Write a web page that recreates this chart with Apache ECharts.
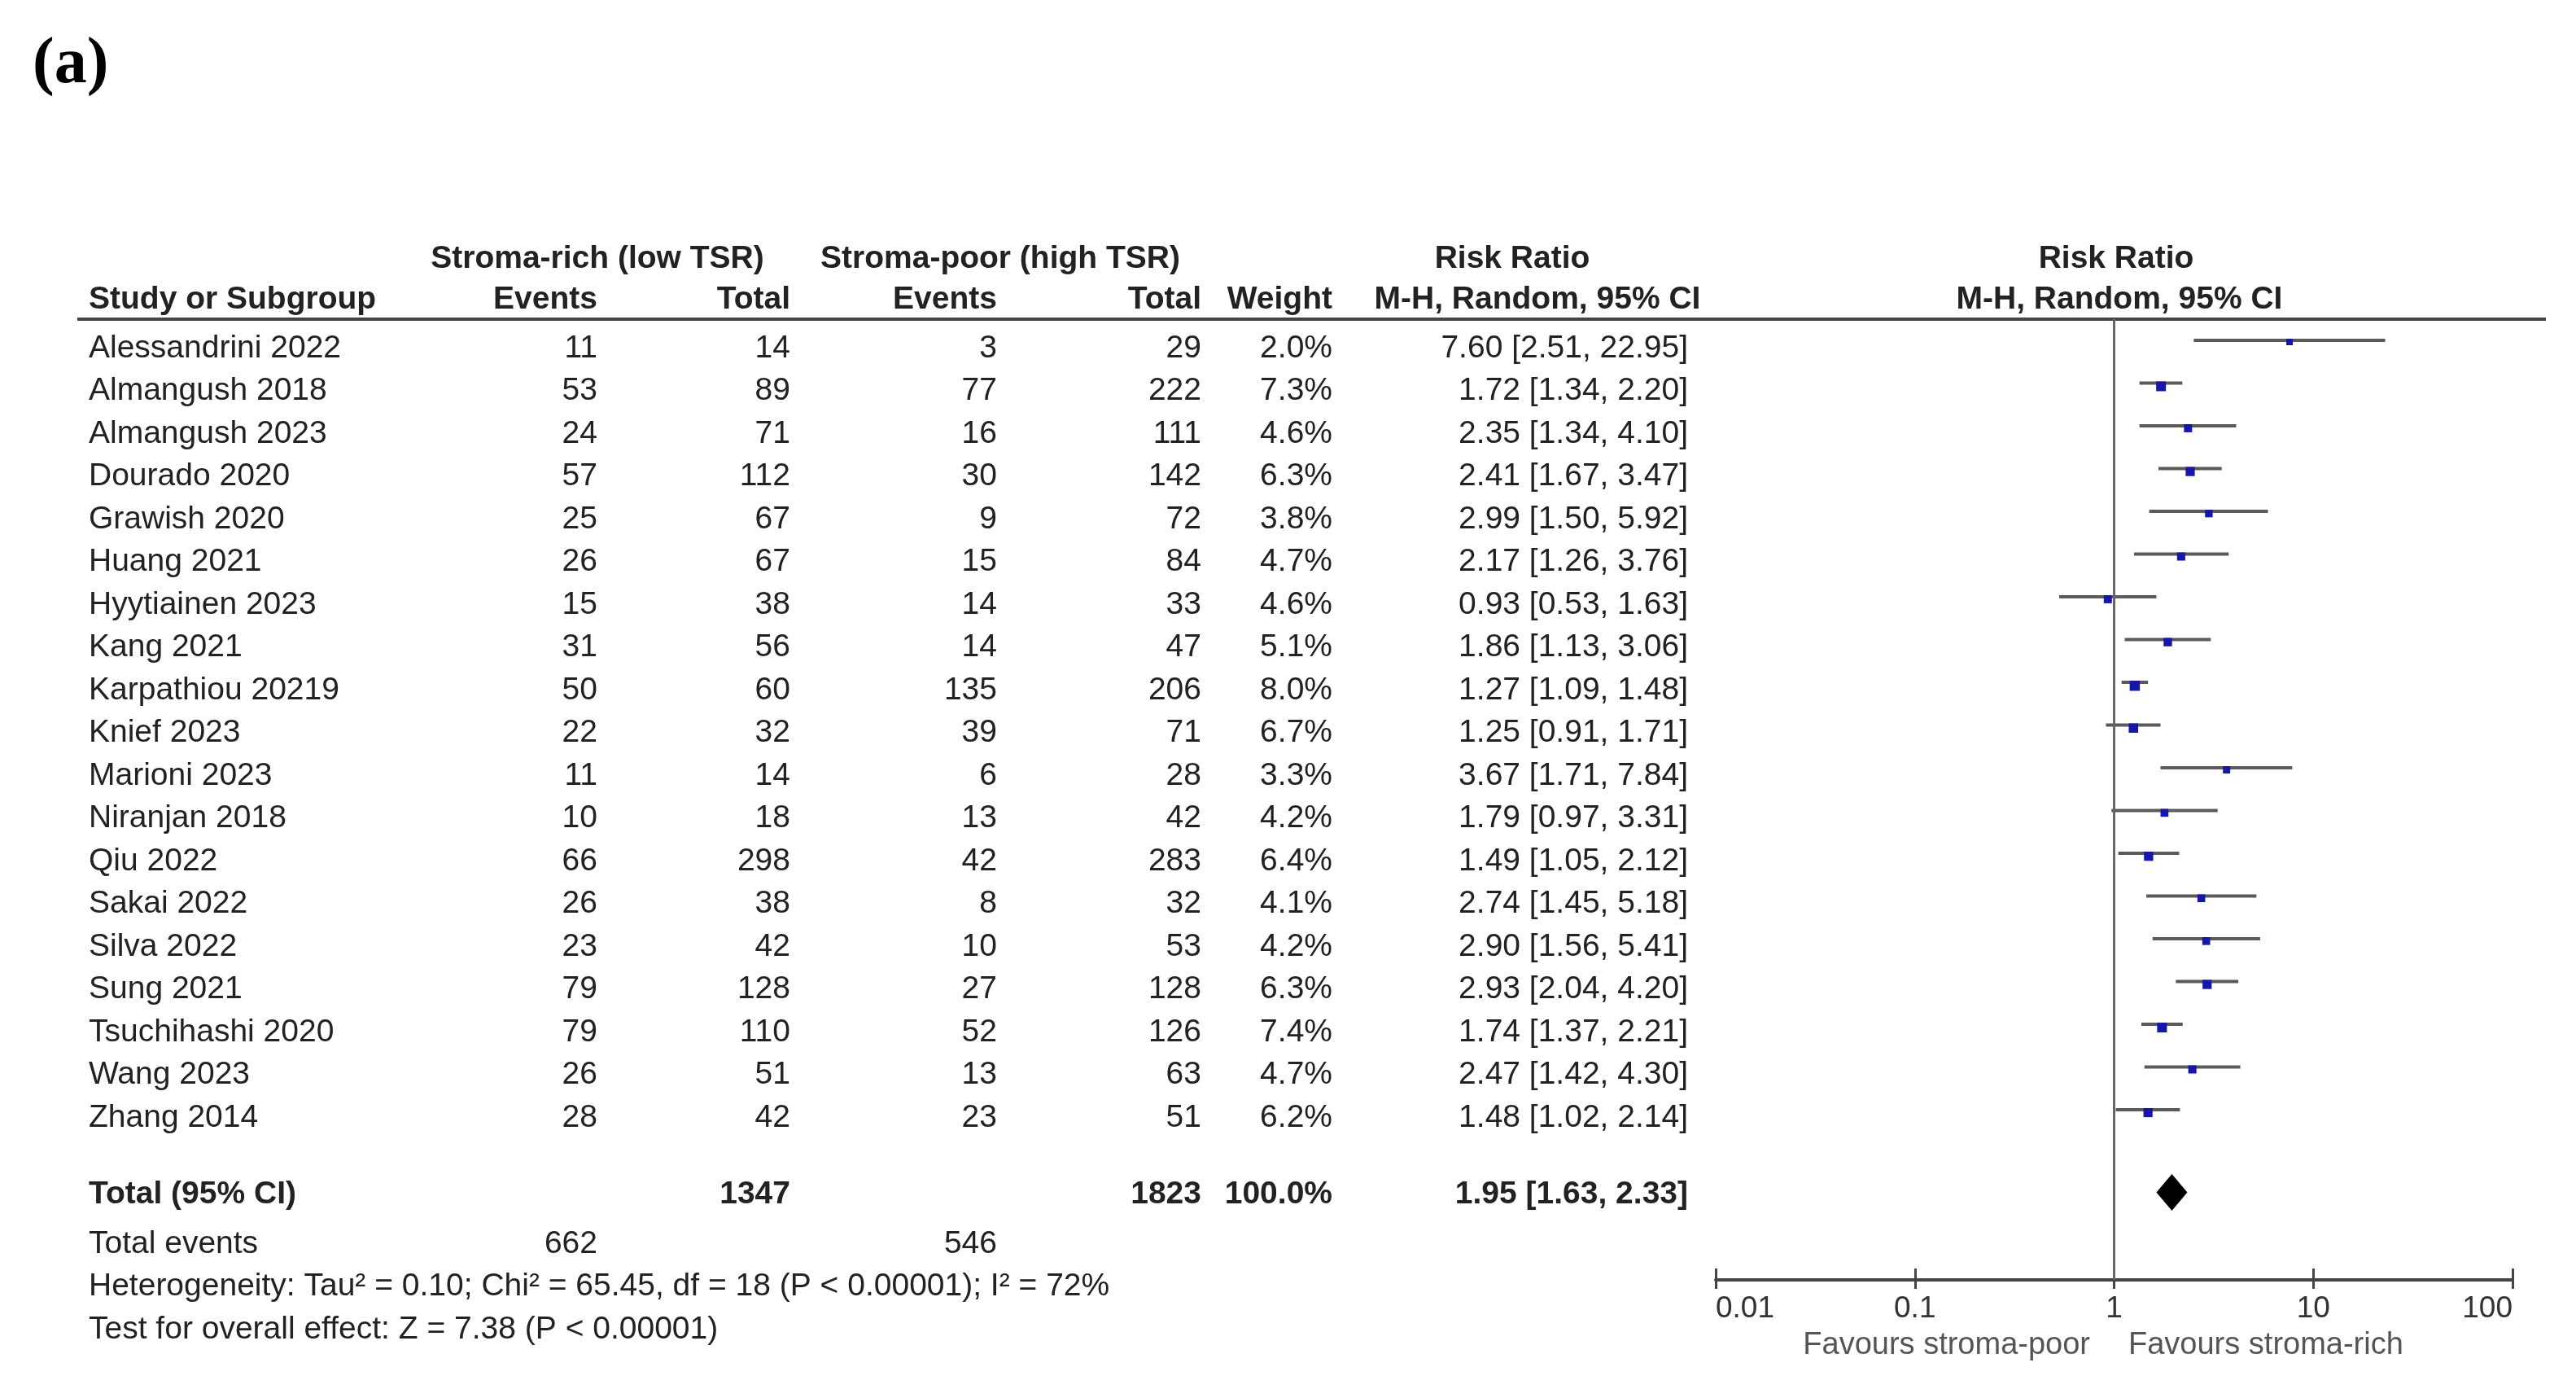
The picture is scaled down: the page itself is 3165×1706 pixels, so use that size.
<!DOCTYPE html>
<html><head><meta charset="utf-8">
<script src="https://cdn.jsdelivr.net/npm/echarts@6/dist/echarts.min.js"></script>
<style>html,body{margin:0;padding:0;background:#fff}#c{width:3165px;height:1706px}</style>
</head><body><div id="c"></div>
<script>
// ---------------- data ----------------
const studies = ['Alessandrini 2022','Almangush 2018','Almangush 2023','Dourado 2020','Grawish 2020','Huang 2021','Hyytiainen 2023','Kang 2021','Karpathiou 20219','Knief 2023','Marioni 2023','Niranjan 2018','Qiu 2022','Sakai 2022','Silva 2022','Sung 2021','Tsuchihashi 2020','Wang 2023','Zhang 2014'];
const richEvents = [11,53,24,57,25,26,15,31,50,22,11,10,66,26,23,79,79,26,28];
const richTotal  = [14,89,71,112,67,67,38,56,60,32,14,18,298,38,42,128,110,51,42];
const poorEvents = [3,77,16,30,9,15,14,14,135,39,6,13,42,8,10,27,52,13,23];
const poorTotal  = [29,222,111,142,72,84,33,47,206,71,28,42,283,32,53,128,126,63,51];
const weights    = [2.0,7.3,4.6,6.3,3.8,4.7,4.6,5.1,8.0,6.7,3.3,4.2,6.4,4.1,4.2,6.3,7.4,4.7,6.2];
const rr         = [7.60,1.72,2.35,2.41,2.99,2.17,0.93,1.86,1.27,1.25,3.67,1.79,1.49,2.74,2.90,2.93,1.74,2.47,1.48];
const ciLow      = [2.51,1.34,1.34,1.67,1.50,1.26,0.53,1.13,1.09,0.91,1.71,0.97,1.05,1.45,1.56,2.04,1.37,1.42,1.02];
const ciHigh     = [22.95,2.20,4.10,3.47,5.92,3.76,1.63,3.06,1.48,1.71,7.84,3.31,2.12,5.18,5.41,4.20,2.21,4.30,2.14];
const pooled     = [1.95, 1.63, 2.33];          // RR, low, high
const totals     = [1347, 1823];                 // rich, poor
const totalEvents = [662, 546];                  // rich, poor
const totalWeight = 100.0;
const axisTicks  = [0.01, 0.1, 1, 10, 100];
const heterogeneity = 'Heterogeneity: Tau\u00b2 = 0.10; Chi\u00b2 = 65.45, df = 18 (P < 0.00001); I\u00b2 = 72%';
const overallTest   = 'Test for overall effect: Z = 7.38 (P < 0.00001)';

// ---------------- layout ----------------
const W = 3165, H = 1706;
const ROW0 = 428, PITCH = 52.5;        // pixel of row 0 text centre, row pitch
const FONT = "'Liberation Sans', Arial, sans-serif";
const FS = 39;
const TXT = '#222';
const col = {study:109, rE:734, rT:971, pE:1225, pT:1476, wt:1637, ci:2074};
const ROW_TOTAL = 19.8, ROW_EVENTS = 20.95, ROW_HET = 21.95, ROW_TEST = 22.95;
const ROW_H1 = -2.095, ROW_H2 = -1.143;
const FOREST = {left:2108, right:3087, top:392, bottom:1572};

const fmtCI = (m,l,h) => m.toFixed(2) + ' [' + l.toFixed(2) + ', ' + h.toFixed(2) + ']';

// table cells built from the arrays: [x, row, text, align, bold]
const cells = [];
studies.forEach((s,i) => {
  cells.push([col.study, i, s, 'left', 0]);
  cells.push([col.rE, i, String(richEvents[i]), 'right', 0]);
  cells.push([col.rT, i, String(richTotal[i]), 'right', 0]);
  cells.push([col.pE, i, String(poorEvents[i]), 'right', 0]);
  cells.push([col.pT, i, String(poorTotal[i]), 'right', 0]);
  cells.push([col.wt, i, weights[i].toFixed(1) + '%', 'right', 0]);
  cells.push([col.ci, i, fmtCI(rr[i], ciLow[i], ciHigh[i]), 'right', 0]);
});
cells.push([col.study, ROW_TOTAL, 'Total (95% CI)', 'left', 1]);
cells.push([col.rT, ROW_TOTAL, String(totals[0]), 'right', 1]);
cells.push([col.pT, ROW_TOTAL, String(totals[1]), 'right', 1]);
cells.push([col.wt, ROW_TOTAL, totalWeight.toFixed(1) + '%', 'right', 1]);
cells.push([col.ci, ROW_TOTAL, fmtCI(pooled[0], pooled[1], pooled[2]), 'right', 1]);
cells.push([col.study, ROW_EVENTS, 'Total events', 'left', 0]);
cells.push([col.rE, ROW_EVENTS, String(totalEvents[0]), 'right', 0]);
cells.push([col.pE, ROW_EVENTS, String(totalEvents[1]), 'right', 0]);
cells.push([col.study, ROW_HET, heterogeneity, 'left', 0]);
cells.push([col.study, ROW_TEST, overallTest, 'left', 0]);
// headers
cells.push([734, ROW_H1, 'Stroma-rich (low TSR)', 'center', 1]);
cells.push([1229, ROW_H1, 'Stroma-poor (high TSR)', 'center', 1]);
cells.push([1858, ROW_H1, 'Risk Ratio', 'center', 1]);
cells.push([2600, ROW_H1, 'Risk Ratio', 'center', 1]);
cells.push([col.study, ROW_H2, 'Study or Subgroup', 'left', 1]);
cells.push([col.rE, ROW_H2, 'Events', 'right', 1]);
cells.push([col.rT, ROW_H2, 'Total', 'right', 1]);
cells.push([col.pE, ROW_H2, 'Events', 'right', 1]);
cells.push([col.pT, ROW_H2, 'Total', 'right', 1]);
cells.push([col.wt, ROW_H2, 'Weight', 'right', 1]);
cells.push([1889, ROW_H2, 'M-H, Random, 95% CI', 'center', 1]);
cells.push([2604, ROW_H2, 'M-H, Random, 95% CI', 'center', 1]);

const ciData = studies.map((s,i) => [ciLow[i], ciHigh[i], rr[i], i, weights[i]]);

const chart = echarts.init(document.getElementById('c'), null, {renderer:'canvas'});
const fMin = (FOREST.top - ROW0) / PITCH, fMax = (FOREST.bottom - ROW0) / PITCH;

chart.setOption({
  animation:false,
  backgroundColor:'#fff',
  grid:[
    {left:0, top:0, width:W, height:H},
    {left:FOREST.left, top:FOREST.top, width:FOREST.right-FOREST.left, height:FOREST.bottom-FOREST.top}
  ],
  xAxis:[
    {gridIndex:0, type:'value', min:0, max:W, show:false},
    {gridIndex:1, type:'log', logBase:10, min:axisTicks[0], max:axisTicks[axisTicks.length-1], position:'bottom',
     axisLine:{show:true, onZero:false, lineStyle:{color:'#444', width:4}},
     axisTick:{show:true, inside:false, length:11, lineStyle:{color:'#444', width:3}},
     axisLabel:{show:true, fontFamily:FONT, fontSize:37, color:'#333', margin:36, verticalAlign:'middle',
       alignMinLabel:'left', alignMaxLabel:'right',
       formatter:v => String(+Number(v).toPrecision(6))},
     splitLine:{show:false}},
    {gridIndex:1, type:'log', logBase:10, min:axisTicks[0], max:axisTicks[axisTicks.length-1], position:'bottom',
     axisLine:{show:false, onZero:false}, axisLabel:{show:false}, splitLine:{show:false},
     axisTick:{show:true, inside:true, length:14, lineStyle:{color:'#444', width:3}}}
  ],
  yAxis:[
    {gridIndex:0, type:'value', min:-ROW0/PITCH, max:(H-ROW0)/PITCH, inverse:true, show:false},
    {gridIndex:1, type:'value', min:fMin, max:fMax, inverse:true, show:false}
  ],
  graphic:[
    {type:'text', left:40, top:40, style:{text:'(a)', font:"bold 80px 'Liberation Serif', 'Times New Roman', serif", fill:'#000'}},
    {type:'line', shape:{x1:95, y1:392, x2:3128, y2:392}, style:{stroke:'#444', lineWidth:4}},
    {type:'text', x:2568, y:1653, style:{text:'Favours stroma-poor', align:'right', verticalAlign:'middle', font:'38px ' + FONT, fill:'#555'}},
    {type:'text', x:2615, y:1653, style:{text:'Favours stroma-rich', align:'left', verticalAlign:'middle', font:'38px ' + FONT, fill:'#555'}}
  ],
  series:[
    {
      type:'custom', xAxisIndex:0, yAxisIndex:0, data:cells, silent:true,
      renderItem:(p, api) => {
        const d = cells[p.dataIndex];
        const pt = api.coord([d[0], d[1]]);
        return {type:'text', x:pt[0], y:pt[1], style:{text:d[2], align:d[3], verticalAlign:'middle',
          font:(d[4] ? 'bold ' : '') + FS + 'px ' + FONT, fill:TXT}};
      }
    },
    {
      type:'custom', xAxisIndex:1, yAxisIndex:1, data:ciData, silent:true, clip:false,
      renderItem:(p, api) => {
        const y = api.value(3);
        const a = api.coord([api.value(0), y]);
        const b = api.coord([api.value(1), y]);
        const m = api.coord([api.value(2), y]);
        const s = 6.5 + 0.75 * api.value(4);
        return {type:'group', children:[
          {type:'line', shape:{x1:a[0], y1:a[1]-10, x2:b[0], y2:b[1]-10}, style:{stroke:'#5a5a5a', lineWidth:4}},
          {type:'rect', shape:{x:m[0]-s/2, y:m[1]-12, width:s, height:s}, style:{fill:'#1616a8'}}
        ]};
      },
      markLine:{silent:true, symbol:'none', label:{show:false},
        lineStyle:{color:'#666', width:3, type:'solid'}, data:[{xAxis:1}]}
    },
    {
      type:'custom', xAxisIndex:1, yAxisIndex:1, data:[[pooled[1], pooled[2], pooled[0], ROW_TOTAL]], silent:true,
      renderItem:(p, api) => {
        const y = api.value(3);
        const a = api.coord([api.value(0), y]);
        const b = api.coord([api.value(1), y]);
        const m = api.coord([api.value(2), y]);
        const cy = m[1] - 3, h = 22.5;
        return {type:'polygon', shape:{points:[[a[0], cy],[m[0], cy-h],[b[0], cy],[m[0], cy+h]]}, style:{fill:'#000'}};
      }
    }
  ]
});
</script></body></html>
